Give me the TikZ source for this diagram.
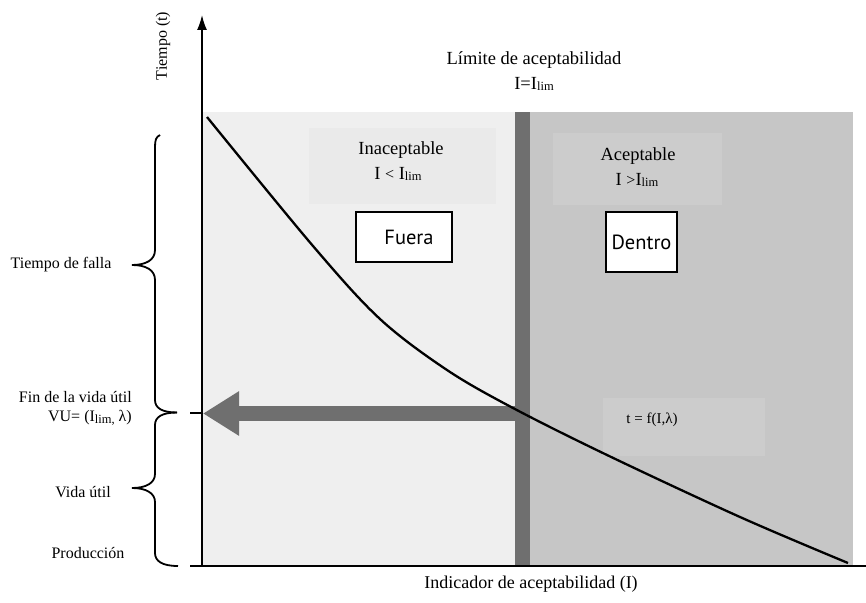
\documentclass[tikz,border=0pt]{standalone}
\usepackage{fontspec}
\setmainfont{Liberation Serif}
\newfontfamily\boxfont{PT Sans}
\usetikzlibrary{arrows.meta}
\newcommand{\limsub}[1]{\raisebox{-1.3pt}{\fontsize{12.5}{13}\selectfont #1}}
\definecolor{leftbg}{HTML}{EFEFEF}
\definecolor{rightbg}{HTML}{C6C6C6}
\definecolor{barc}{HTML}{6F6F6F}
\definecolor{panelL}{HTML}{EAEAEA}
\definecolor{panelR}{HTML}{CCCCCC}
\begin{document}
\begin{tikzpicture}[x=1pt,y=-1pt,
  lbl/.style={font=\fontsize{16}{18}\selectfont, inner sep=0pt},
  toplbl/.style={font=\fontsize{18.5}{21}\selectfont, inner sep=0pt},
  statebox/.style={draw=black, line width=1.6pt, fill=white, font=\boxfont\fontsize{20.5}{22}\selectfont, inner sep=0pt},
  axisline/.style={line width=1.6pt},
  bracestyle/.style={line width=1.8pt},
  curvestyle/.style={line width=2.3pt},
  ]
\useasboundingbox (0,0) rectangle (866,602);
% regions
\fill[leftbg] (202,112) rectangle (517,566);
\fill[rightbg] (517,112) rectangle (853,566);
\fill[panelL] (309,128) rectangle (496,204);
\fill[panelR] (553,133) rectangle (722,205);
\fill[panelR] (603,398) rectangle (765,456);
\fill[barc] (515,112) rectangle (530,566);
% texts
\node[toplbl] (lim1) at (534,60) {Límite de aceptabilidad};
\node[toplbl] (lim2) at (534,84) {I=I\limsub{lim}};
\node[toplbl] (inac1) at (401,150) {Inaceptable};
\node[toplbl] (inac2) at (398,174) {I {\fontsize{16}{16}\selectfont<} I\limsub{lim}};
\node[toplbl] (acep1) at (638,156) {Aceptable};
\node[toplbl] (acep2) at (637,180) {I {\fontsize{16}{16}\selectfont>}I\limsub{lim}};
\node[statebox, minimum width=96pt, minimum height=50pt] (fuera) at (404,237) {\hspace*{10pt}Fuera};
\node[statebox, minimum width=71pt, minimum height=60pt] (dentro) at (641.5,242) {Dentro};
\node[lbl, font=\fontsize{15}{16}\selectfont] (func) at (652,420) {t = f(I,λ)};
% arrow
\coordinate (cross) at (515,413.5);
\coordinate (vu) at (203,413.5);
\draw[barc, line width=15pt, -{Triangle[length=36pt,width=42pt]}] (cross) -- (vu);
% curve
\draw[curvestyle] plot[smooth, tension=0.55] coordinates {(207,117) (313,246) (380,319) (447,370) (513,408) (607,455) (740,517) (848,563)};
% axes
\coordinate (origin) at (202,566);
\coordinate (ytop) at (202,15);
\coordinate (xstart) at (190,566);
\coordinate (xend) at (866,566);
\draw[axisline, -{Latex[length=15pt,width=10pt]}] (origin) -- (ytop);
\draw[axisline] (xstart) -- (xend);
\coordinate (tickL) at (190,413);
\draw[axisline] (tickL) -- (202,413);
% braces
\draw[bracestyle] (160,135) .. controls (156,137) and (155,140) .. (155,147)
  -- (155,250) .. controls (155,260) and (146,265) .. (132,265)
  .. controls (146,265) and (155,270) .. (155,280)
  -- (155,400) .. controls (155,408) and (162,412.5) .. (177,412.5);
\draw[bracestyle] (177,412.5) .. controls (162,412.5) and (155,417) .. (155,425)
  -- (155,474) .. controls (155,483) and (146,488) .. (132,488)
  .. controls (146,488) and (155,493) .. (155,502)
  -- (155,553) .. controls (155,561) and (162,566) .. (178,566);
% left labels
\node[lbl, rotate=90] (tiempo) at (163,46) {Tiempo (t)};
\node[lbl] (falla) at (61,265) {Tiempo de falla};
\node[lbl, anchor=east] (fin1) at (132,397) {Fin de la vida útil};
\node[lbl, anchor=east] (fin2) at (132,418) {VU= (I\limsub{lim,} λ)};
\node[lbl] (vida) at (83,492) {Vida útil};
\node[lbl] (prod) at (88,553) {Producción};
\node[toplbl, font=\fontsize{18}{20}\selectfont] (xlabel) at (531,584) {Indicador de aceptabilidad (I)};
\end{tikzpicture}
\end{document}
